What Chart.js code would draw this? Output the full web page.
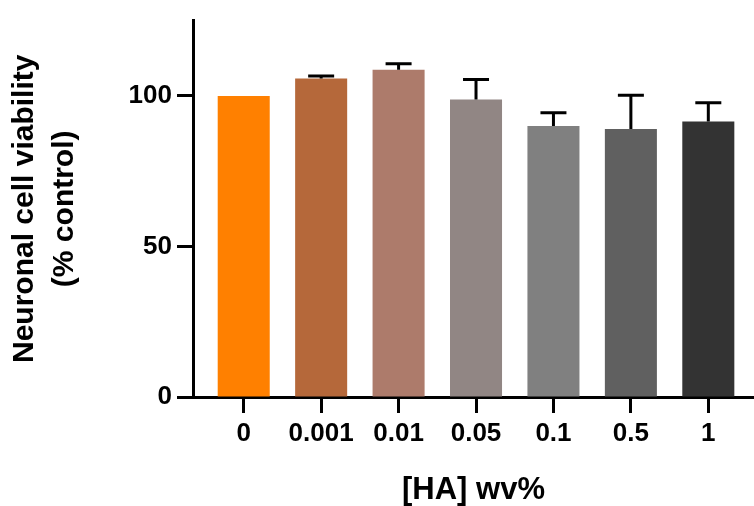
<!DOCTYPE html>
<html>
<head>
<meta charset="utf-8">
<script src="https://cdn.jsdelivr.net/npm/chart.js@4/dist/chart.umd.min.js"></script>
<style>
  html, body { margin: 0; padding: 0; background: #fff; }
  #wrap { width: 754px; height: 506px; }
</style>
</head>
<body>
<div id="wrap"><canvas id="viabilityCanvas" width="754" height="506"></canvas></div>
<script>
// [HA] concentrations (wv%)
const haLabels = ["0", "0.001", "0.01", "0.05", "0.1", "0.5", "1"];
// mean viability, % of control
const viability = [100, 105.8, 108.7, 98.8, 90.0, 89.0, 91.5];
// upper error (SD)
const viabilitySD = [0, 0.8, 2.0, 6.6, 4.4, 11.2, 6.2];
const yTicks = [0, 50, 100];

var barColors = [
  "#ff8000",
  "#b5683a",
  "#ad7b6b",
  "#918684",
  "#808080",
  "#606060",
  "#333333"
];

const fontFam = "'Liberation Sans', Arial, sans-serif";

// upper-only error bars, drawn from the data through the scales
const errorBars = {
  id: "errorBars",
  afterDatasetsDraw(chart) {
    const ctx = chart.ctx;
    const xs = chart.scales.x, ys = chart.scales.y;
    ctx.save();
    ctx.strokeStyle = "#000";
    ctx.lineWidth = 3;
    for (let i = 0; i < viability.length; i++) {
      if (!viabilitySD[i]) continue;
      const x = xs.getPixelForValue(i);
      const y0 = ys.getPixelForValue(viability[i]);
      const y1 = ys.getPixelForValue(viability[i] + viabilitySD[i]);
      ctx.beginPath();
      ctx.moveTo(x, y0);
      ctx.lineTo(x, y1);
      ctx.moveTo(x - 13, y1);
      ctx.lineTo(x + 13, y1);
      ctx.stroke();
    }
    ctx.restore();
  }
};

new Chart(document.getElementById("viabilityCanvas"), {
  type: "bar",
  data: {
    datasets: [{
      data: viability.map((v, i) => ({ x: i, y: v })),
      backgroundColor: barColors,
      borderWidth: 0,
      categoryPercentage: 1,
      barPercentage: 0.672
    }]
  },
  options: {
    responsive: false,
    animation: false,
    layout: { padding: { top: 18, left: 0, right: 0, bottom: 0 } },
    plugins: {
      legend: { display: false },
      tooltip: { enabled: false }
    },
    scales: {
      x: {
        type: "linear",
        min: -0.655,
        max: 6.59,
        offset: false,
        afterBuildTicks: (s) => { s.ticks = haLabels.map((_, i) => ({ value: i })); },
        afterFit: (s) => { s.height = 109; },
        grid: { offset: false, drawOnChartArea: false, drawTicks: true, tickLength: 16, tickWidth: 3, tickColor: "#000" },
        border: { color: "#000", width: 3 },
        ticks: {
          color: "#000",
          padding: 5,
          maxRotation: 0,
          autoSkip: false,
          font: { family: fontFam, size: 26, weight: "bold" },
          callback: (v) => haLabels[v]
        },
        title: {
          display: true,
          text: "[HA] wv%",
          color: "#000",
          padding: 0,
          font: { family: fontFam, size: 31, weight: "bold", lineHeight: 1 }
        }
      },
      y: {
        min: 0,
        max: 125,
        afterBuildTicks: (s) => { s.ticks = yTicks.map(v => ({ value: v })); },
        afterFit: (s) => { s.width = 193; },
        grid: { drawOnChartArea: false, drawTicks: true, tickLength: 16, tickWidth: 3, tickColor: "#000" },
        border: { color: "#000", width: 3 },
        ticks: {
          color: "#000",
          padding: 5,
          font: { family: fontFam, size: 26, weight: "bold" }
        },
        title: {
          display: true,
          text: ["Neuronal cell viability", "(% control)"],
          color: "#000",
          padding: { top: 5, bottom: 0 },
          font: { family: fontFam, size: 30, weight: "bold", lineHeight: 1.333 }
        }
      }
    }
  },
  plugins: [errorBars]
});
</script>
</body>
</html>
